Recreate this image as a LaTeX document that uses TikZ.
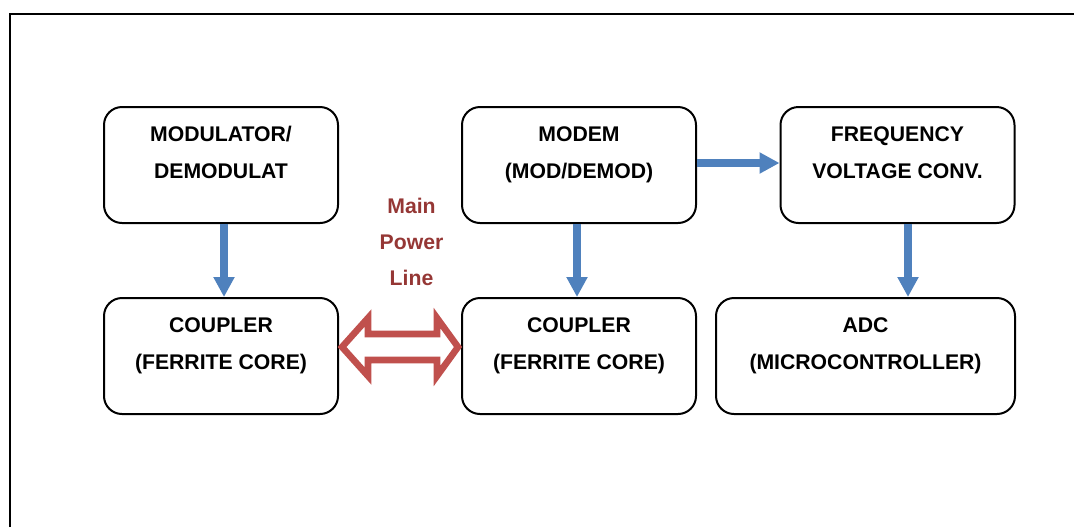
\documentclass[tikz,border=0pt]{standalone}
\usepackage{fontspec}
\setmainfont{Liberation Sans}
\usetikzlibrary{positioning,calc,arrows.meta}
\definecolor{arrblue}{HTML}{4F81BD}
\definecolor{arrred}{HTML}{C0504D}
\definecolor{txtred}{HTML}{953735}
\tikzset{blok/.style={draw, line width=1pt, rounded corners=9pt, minimum width=117pt, minimum height=58pt, inner sep=0pt}}
\tikzset{bloktxt/.style={anchor=north, inner sep=0pt, align=center, font=\bfseries\fontsize{10.6}{18.5}\selectfont}}
\tikzset{barr/.style={draw=arrblue, line width=3.7pt, -{Triangle[length=10pt, width=10pt]}}}
\tikzset{parr/.style={draw=arrred, line width=3.3pt, fill=white, line join=miter}}
\begin{document}
\begin{tikzpicture}[x=0.5pt, y=-0.5pt]
    \useasboundingbox (0,0) rectangle (1074,527);
    % frame
    \draw[line width=1.2pt] (10,527) -- (10,14) -- (1074,14);
    % top row
    \node[blok] (mod) at (221,165) {};
    \node[blok] (modem) at (579,165) {};
    \node[blok] (fvc) at (897.5,165) {};
    % bottom row
    \node[blok] (cpl1) at (221,356) {};
    \node[blok] (cpl2) at (579,356) {};
    \node[blok, minimum width=149.5pt] (adc) at (865.5,356) {};
    \node[bloktxt, below=10pt of mod.north] (modtxt) {MODULATOR/\\DEMODULAT};
    \node[bloktxt, below=10pt of modem.north] (modemtxt) {MODEM\\(MOD/DEMOD)};
    \node[bloktxt, below=10pt of fvc.north] (fvctxt) {FREQUENCY\\VOLTAGE CONV.};
    \node[bloktxt, below=10pt of cpl1.north] (cpl1txt) {COUPLER\\(FERRITE CORE)};
    \node[bloktxt, below=10pt of cpl2.north] (cpl2txt) {COUPLER\\(FERRITE CORE)};
    \node[bloktxt, below=10pt of adc.north] (adctxt) {ADC\\(MICROCONTROLLER)};
    \node[bloktxt, text=txtred, font=\bfseries\fontsize{10.6}{18}\selectfont] (pwr) at (411.5,198) {Main\\Power\\Line};
    % blue arrows
    \draw[barr] ([xshift=1.5pt]mod.south) -- ([xshift=1.5pt]mod.south |- cpl1.north);
    \draw[barr] ([xshift=-1pt]modem.south) -- ([xshift=-1pt]modem.south |- cpl2.north);
    \draw[barr] ([xshift=5.25pt]fvc.south) -- ([xshift=5.25pt]fvc.south |- adc.north);
    \draw[barr] ([yshift=1pt]modem.east) -- ([yshift=1pt]modem.east -| fvc.west);
    % power line double arrow
    \draw[parr] ([shift={(3,-9)}]cpl1.east) -- ++(26,-29) -- ++(0,16) -- ++(69,0) -- ++(0,-16)
        -- ++(21,29) -- ++(-21,29) -- ++(0,-16) -- ++(-69,0) -- ++(0,16) -- cycle;
\end{tikzpicture}
\end{document}
